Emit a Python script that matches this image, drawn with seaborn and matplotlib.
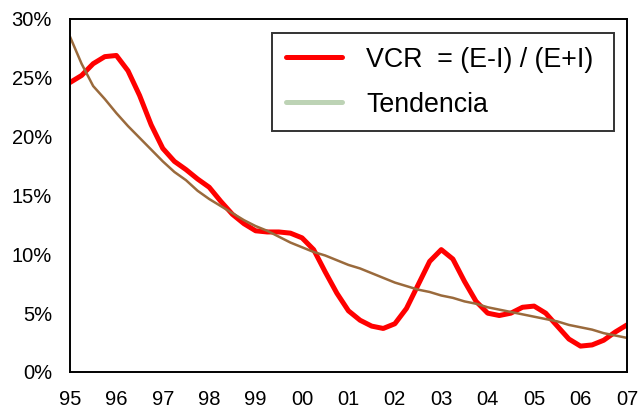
import numpy as np
import pandas as pd
import matplotlib
matplotlib.use("Agg")
import matplotlib.pyplot as plt
from matplotlib.lines import Line2D
from matplotlib.ticker import PercentFormatter
import seaborn as sns

# quarterly observations, 1995 Q1 .. 2007 Q1
years = [1995 + q / 4 for q in range(49)]
year_labels = ["95", "96", "97", "98", "99", "00", "01",
               "02", "03", "04", "05", "06", "07"]

vcr = [24.6, 25.2, 26.2, 26.8, 26.9, 25.6, 23.5, 21.0, 19.0, 17.9, 17.2, 16.4,
       15.7, 14.5, 13.4, 12.6, 12.0, 11.9, 11.9, 11.8, 11.4, 10.4, 8.5, 6.7,
       5.2, 4.4, 3.9, 3.7, 4.1, 5.4, 7.4, 9.4, 10.4, 9.6, 7.7, 6.0,
       5.0, 4.8, 5.0, 5.5, 5.6, 5.0, 3.9, 2.8, 2.2, 2.3, 2.7, 3.4, 4.0]

tendencia = [28.5, 26.2, 24.3, 23.2, 22.0, 20.9, 19.9, 18.9, 17.9, 17.0, 16.3, 15.4,
             14.7, 14.1, 13.5, 12.9, 12.4, 12.0, 11.5, 11.0, 10.6, 10.2, 9.9, 9.5,
             9.1, 8.8, 8.4, 8.0, 7.6, 7.3, 7.0, 6.8, 6.5, 6.3, 6.0, 5.8,
             5.5, 5.3, 5.1, 4.9, 4.7, 4.5, 4.3, 4.0, 3.8, 3.6, 3.3, 3.1, 2.9]

df = pd.DataFrame({"year": years, "vcr": vcr, "tendencia": tendencia})

sns.set_style("white")
plt.rcParams["font.family"] = ["Liberation Sans", "DejaVu Sans"]

fig = plt.figure(figsize=(6.39, 4.11), dpi=100)
ax = fig.add_axes([0.1095, 0.0949, 0.8716, 0.8589])

sns.lineplot(data=df, x="year", y="vcr", ax=ax, color="#ff0000", lw=3.6)
sns.lineplot(data=df, x="year", y="tendencia", ax=ax, color="#9a6a3c", lw=1.8)

ax.set_xlim(1995, 2007)
ax.set_ylim(0, 30)
ax.set_xticks(range(1995, 2008))
ax.set_xticklabels(year_labels)
ax.set_yticks(range(0, 31, 5))
ax.yaxis.set_major_formatter(PercentFormatter(decimals=0))
ax.set_xlabel("")
ax.set_ylabel("")
ax.tick_params(axis="both", labelsize=14.5, length=5, width=1.3, direction="out",
               colors="black")
ax.tick_params(axis="y", pad=8)
ax.tick_params(axis="x", pad=8)
for s in ax.spines.values():
    s.set_color("black")
    s.set_linewidth(1.4)

handles = [Line2D([], [], color="#ff0000", lw=3.6),
           Line2D([], [], color="#bdd3b5", lw=3.6)]
leg = ax.legend(handles, ["VCR  = (E-I) / (E+I) ", "Tendencia"],
                loc="upper right", bbox_to_anchor=(0.977, 0.96), borderaxespad=0,
                fontsize=19.3, frameon=True, fancybox=False, handlelength=2.1,
                handletextpad=0.9, labelspacing=0.72, borderpad=0.5,
                labelcolor="black")
leg.get_frame().set_edgecolor("black")
leg.get_frame().set_linewidth(1.4)

fig.savefig("out.png", dpi=100)
